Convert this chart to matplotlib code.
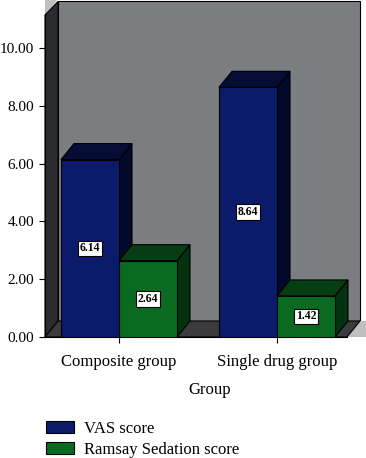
import numpy as np
import matplotlib
matplotlib.use("Agg")
import matplotlib.pyplot as plt
from matplotlib.patches import Polygon, Patch

# data
groups = ["Composite group", "Single drug group"]
vas_score = [6.14, 8.64]
ramsay_score = [2.64, 1.42]
series_names = ["VAS score", "Ramsay Sedation score"]
y_ticks = [0, 2, 4, 6, 8, 10]

plt.rcParams["font.family"] = ["Liberation Serif", "DejaVu Serif"]

fig = plt.figure(figsize=(3.66, 4.58), dpi=100)
# axes front frame: px x 45..366, px y 0..337
ax = fig.add_axes([45 / 366, 121 / 458, 321 / 366, 337 / 458])

px_y = 28.9   # pixels per y unit
px_x = 158.0  # pixels per category step
x_lo = (45 - 119) / px_x
x_hi = (366 - 119) / px_x
y_hi = 337 / px_y
ax.set_xlim(x_lo, x_hi)
ax.set_ylim(0, y_hi)

# 3d depth in data units
dx = 13 / px_x
dy = 16 / px_y
bw = 58 / px_x
x_floor_r = (347 - 119) / px_x
y_wall_top = (337 - 15) / px_y

wall_gray = "#7b7d80"
side_wall = "#2a2c2d"
floor_col = "#3b3b3e"
light = "#bfbfbf"

def poly(pts, fc, z, lw=0.8):
    ax.add_patch(Polygon(pts, closed=True, facecolor=fc, edgecolor="black",
                         linewidth=lw, zorder=z, clip_on=False))

# back wall, left wall, floor
poly([(x_lo + dx, dy), (x_floor_r + dx, dy), (x_floor_r + dx, y_hi - 0.05),
      (x_lo + dx, y_hi - 0.05)], wall_gray, 1)
ax.add_patch(Polygon([(x_lo, y_wall_top), (x_lo, y_hi + 0.1), (x_lo + dx, y_hi + 0.1),
                      (x_lo + dx, y_wall_top + dy)], closed=True,
                     facecolor=light, edgecolor="none", zorder=1.5, clip_on=False))
poly([(x_lo, 0), (x_lo, y_wall_top), (x_lo + dx, y_hi - 0.05),
      (x_lo + dx, dy)], side_wall, 2)
poly([(x_lo, 0), (x_floor_r, 0), (x_floor_r + dx, dy), (x_lo + dx, dy)],
     floor_col, 2)
ax.add_patch(Polygon([(x_floor_r, 0), (x_floor_r + dx, dy), (x_hi, dy), (x_hi, 0)],
                     closed=True, facecolor=light, edgecolor="none", zorder=1))

colors = [("#0c1a6c", "#050c36", "#030929"), ("#0a6a20", "#063d13", "#04310f")]
x = np.arange(len(groups))

z = 5
for i in range(len(groups)):
    for j, vals in enumerate([vas_score, ramsay_score]):
        front, top, side = colors[j]
        left = x[i] - bw + j * bw
        h = vals[i]
        poly([(left + bw, 0), (left + bw + dx, dy), (left + bw + dx, h + dy),
              (left + bw, h)], side, z)
        poly([(left, h), (left + bw, h), (left + bw + dx, h + dy),
              (left + dx, h + dy)], top, z)
        ax.bar(left, h, width=bw, align="edge", color=front, edgecolor="black",
               linewidth=0.8, zorder=z + 0.5)
        ax.text(left + bw / 2, h / 2, f"{h:.2f}", ha="center", va="center",
                fontsize=8.5, fontweight="bold", zorder=z + 1,
                bbox=dict(boxstyle="square,pad=0.15", fc="white", ec="black", lw=0.8))
        z += 2

# axes styling
for s in ["top", "right"]:
    ax.spines[s].set_visible(False)
ax.spines["left"].set_bounds(0, y_wall_top)
ax.spines["bottom"].set_bounds(x_lo, x_floor_r)
ax.spines["left"].set_zorder(3)
ax.spines["bottom"].set_zorder(3)
ax.set_yticks(y_ticks)
ax.set_yticklabels([f"{v:.2f}" for v in y_ticks])
ax.set_xticks(x)
ax.set_xticklabels(groups)
ax.tick_params(axis="y", labelsize=11, length=4.5, width=0.8, pad=3.5)
ax.tick_params(axis="x", labelsize=12, length=4.5, width=0.8, pad=7.5)
ax.set_xlabel("Group", fontsize=12)
ax.xaxis.set_label_coords(0.514, -0.134)
ax.patch.set_visible(False)

handles = [Patch(facecolor=colors[0][0], edgecolor="black", lw=0.8),
           Patch(facecolor=colors[1][0], edgecolor="black", lw=0.8)]
fig.legend(handles, series_names, loc="upper left",
           bbox_to_anchor=(46 / 366, 1 - 421 / 458), frameon=False, fontsize=12,
           borderpad=0, borderaxespad=0, handlelength=1.7, handleheight=0.75,
           handletextpad=0.6, labelspacing=0.3)

fig.savefig("out.png", dpi=100)
